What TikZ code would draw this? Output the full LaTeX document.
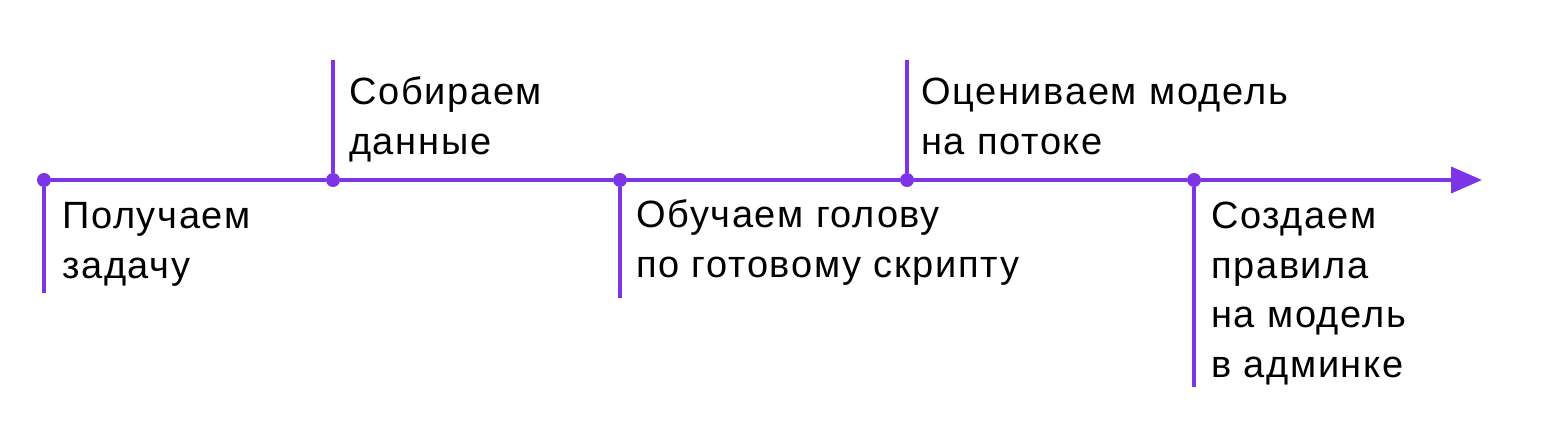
\documentclass[tikz,border=0pt]{standalone}
\usepackage{fontspec}
\setmainfont{Liberation Sans}
\newfontfamily\lblfont{Liberation Sans}[LetterSpace=4.4]
\usetikzlibrary{arrows.meta}
\definecolor{tlpurple}{RGB}{125,52,230}
\tikzset{
  tline/.style={draw=tlpurple, line width=4pt},
  tdot/.style={circle, fill=tlpurple, draw=none, minimum size=14pt, inner sep=0pt},
  tlabel/.style={anchor=base west, inner sep=0pt, align=left, text=black,
    font=\lblfont\fontsize{38}{49.5}\selectfont},
}
\begin{document}
\begin{tikzpicture}[x=1pt,y=-1pt]
\useasboundingbox (0,0) rectangle (1560,436);
% milestones
\node[tdot] (p1) at (44,180) {};
\node[tdot] (p2) at (333,180) {};
\node[tdot] (p3) at (620,180) {};
\node[tdot] (p4) at (907,180) {};
\node[tdot] (p5) at (1194,180) {};
\coordinate (tip) at (1482,180);
% tick ends
\coordinate (t1) at (44,293);
\coordinate (t2) at (333,60);
\coordinate (t3) at (620,298);
\coordinate (t4) at (907,60);
\coordinate (t5) at (1194,387);
% axis
\draw[tline] (p1) -- (p2);
\draw[tline] (p2) -- (p3);
\draw[tline] (p3) -- (p4);
\draw[tline] (p4) -- (p5);
\draw[tline, -{Triangle[length=31pt,width=26pt]}] (p5) -- (tip);
% ticks
\draw[tline] (p1) -- (t1);
\draw[tline] (p2) -- (t2);
\draw[tline] (p3) -- (t3);
\draw[tline] (p4) -- (t4);
\draw[tline] (p5) -- (t5);
% labels (base anchor = baseline of last line)
\node[tlabel] (l1) at (62,278) {Получаем\\задачу};
\node[tlabel] (l2) at (349,154) {Собираем\\данные};
\node[tlabel] (l3) at (636,277) {Обучаем голову\\по готовому скрипту};
\node[tlabel] (l4) at (921,154) {Оцениваем модель\\на потоке};
\node[tlabel] (l5) at (1211,377) {Создаем\\правила\\на модель\\в админке};
\end{tikzpicture}
\end{document}
